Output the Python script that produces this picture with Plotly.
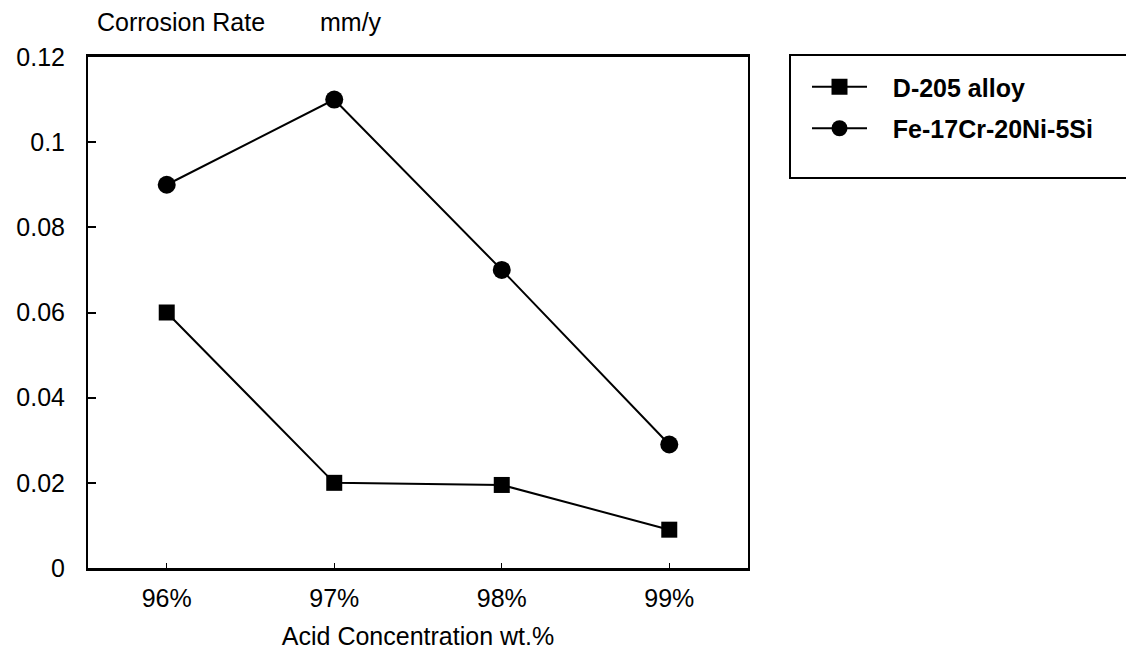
import plotly.graph_objects as go

# Acid concentration categories and corrosion rates (mm/y)
concentrations = ["96%", "97%", "98%", "99%"]
d205_rate = [0.06, 0.02, 0.0195, 0.009]
fe17cr_rate = [0.09, 0.11, 0.07, 0.029]
y_ticks = [0, 0.02, 0.04, 0.06, 0.08, 0.1, 0.12]
y_tick_text = ["0", "0.02", "0.04", "0.06", "0.08", "0.1", "0.12"]

FONT = "Liberation Sans, Arial, Helvetica, sans-serif"
FS = 25
GAP = "&nbsp;&nbsp;&nbsp;"

# plot area in pixels
L, R, T, B = 88, 748, 57, 568
W, H = R - L, B - T


def px(x):
    return (x - L) / W


def py(y):
    return (B - y) / H


fig = go.Figure()
fig.add_trace(go.Scatter(
    x=list(range(len(concentrations))), y=d205_rate, name=GAP + "D-205 alloy",
    mode="lines+markers", legendgroup="a",
    line=dict(color="black", width=2),
    marker=dict(symbol="square", size=16, color="black"),
))
fig.add_trace(go.Scatter(
    x=list(range(len(concentrations))), y=fe17cr_rate, name=GAP + "Fe-17Cr-20Ni-5Si",
    mode="lines+markers", legendgroup="b",
    line=dict(color="black", width=2),
    marker=dict(symbol="circle", size=18, color="black"),
))

# Legend frame extending to the right edge of the page
fig.add_shape(type="rect", xref="paper", yref="paper",
              x0=px(790), x1=px(1132), y0=py(178), y1=py(55),
              line=dict(color="black", width=2), fillcolor="white", layer="below")

fig.update_layout(
    width=1126, height=655,
    margin=dict(l=L, r=1126 - R, t=T, b=655 - B),
    paper_bgcolor="white", plot_bgcolor="white",
    font=dict(family=FONT, size=FS, color="black"),
    showlegend=True,
    legend=dict(
        x=px(807), y=py(64), xanchor="left", yanchor="top",
        bgcolor="rgba(0,0,0,0)", borderwidth=0,
        font=dict(family=FONT, size=FS, color="black", weight="bold"),
        tracegroupgap=6, itemwidth=55,
    ),
    xaxis=dict(
        range=[-0.47, 3.47], automargin=False,
        tickmode="array", tickvals=list(range(len(concentrations))),
        ticktext=concentrations,
        ticks="inside", ticklen=5, tickwidth=1, tickcolor="black",
        ticklabelstandoff=6,
        showline=True, linecolor="black", linewidth=3, mirror=True,
        showgrid=False, zeroline=False,
        title=dict(text="Acid Concentration wt.%", standoff=17,
                   font=dict(family=FONT, size=FS)),
        tickfont=dict(family=FONT, size=FS),
    ),
    yaxis=dict(
        range=[0, 0.12], automargin=False,
        tickmode="array", tickvals=y_ticks, ticktext=y_tick_text,
        ticks="inside", ticklen=8, tickwidth=1.5, tickcolor="black",
        ticklabelstandoff=16,
        showline=True, linecolor="black", linewidth=2, mirror=True,
        showgrid=False, zeroline=False,
        tickfont=dict(family=FONT, size=FS),
    ),
    annotations=[
        dict(text="Corrosion Rate", xref="paper", yref="paper",
             x=px(95), y=py(22), xanchor="left", yanchor="middle",
             showarrow=False, font=dict(family=FONT, size=FS, color="black")),
        dict(text="mm/y", xref="paper", yref="paper",
             x=px(318), y=py(22), xanchor="left", yanchor="middle",
             showarrow=False, font=dict(family=FONT, size=FS, color="black")),
    ],
)

fig.write_html("out.html")
